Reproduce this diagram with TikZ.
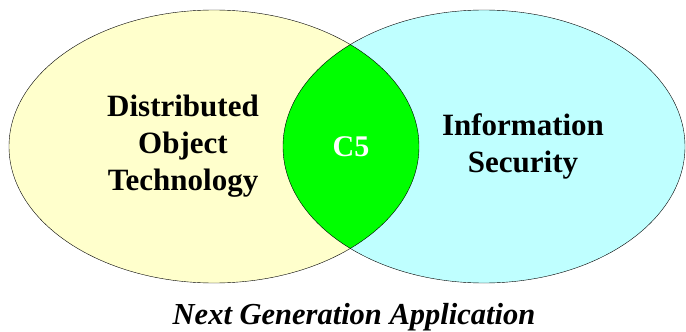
\documentclass[tikz,border=0pt]{standalone}
\usepackage{fontspec}
\setmainfont{Liberation Serif}
\definecolor{paleyellow}{HTML}{FFFFCC}
\definecolor{palecyan}{HTML}{BFFFFF}
\definecolor{vennGreen}{HTML}{00FF00}

\begin{document}
\begin{tikzpicture}[x=1pt, y=-1pt,
    setlabel/.style={align=center, font=\fontsize{31}{37}\selectfont\bfseries}]
    \useasboundingbox (0,0) rectangle (686,332);

    % Sets
    \fill[paleyellow] (214,146.5) ellipse [x radius=205, y radius=136.5];
    \fill[palecyan] (484,146.5) ellipse [x radius=201, y radius=136.5];
    \begin{scope}
        \clip (214,146.5) ellipse [x radius=205, y radius=136.5];
        \fill[vennGreen] (484,146.5) ellipse [x radius=201, y radius=136.5];
    \end{scope}
    \draw (214,146.5) ellipse [x radius=205, y radius=136.5];
    \draw (484,146.5) ellipse [x radius=201, y radius=136.5];

    % Labels
    \node[setlabel] (dot) at (183,146) {Distributed\\Object\\Technology};
    \node[setlabel] (infosec) at (523,146) {Information\\Security};
    \node[setlabel, text=white, font=\fontsize{30}{36}\selectfont\bfseries] (cfive) at (351,147) {C5};

    \node[font=\fontsize{30.5}{36}\selectfont\bfseries\itshape] (nga) at (354,317) {Next Generation Application};
\end{tikzpicture}
\end{document}
